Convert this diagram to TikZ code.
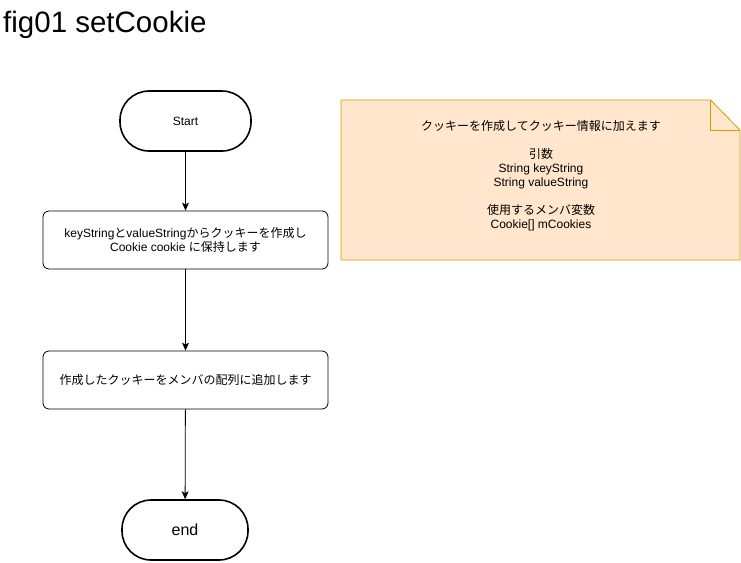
\documentclass[tikz,border=0pt]{standalone}
\usepackage{fontspec}
\setmainfont{Liberation Sans}
\newfontfamily\jafont{Noto Sans CJK JP}
\usepackage{tikz}
\usetikzlibrary{arrows.meta, positioning}
\definecolor{notefill}{HTML}{FFE6CC}
\definecolor{noteline}{HTML}{D79B00}
\tikzstyle{terminal}=[draw, line width=1.6pt, rounded corners=29pt, minimum height=60pt, align=center, font=\fontsize{12}{14}\selectfont]
\tikzstyle{process}=[draw, line width=0.8pt, rounded corners=6pt, minimum width=285pt, minimum height=58pt, align=center, font=\fontsize{12}{14}\selectfont]
\tikzstyle{flow}=[line width=0.8pt, -{Stealth[length=8pt, width=7pt, inset=2pt]}]
\newcommand{\process}{\node[process]}
\newcommand{\ja}[1]{{\jafont #1}}

\begin{document}
\begin{tikzpicture}[x=1pt, y=-1pt]
            \useasboundingbox (0,0) rectangle (741,562);
            \node (title) at (3,32) [anchor=base west, inner sep=0pt, font=\fontsize{29.5}{34}\selectfont]{fig01 setCookie};
            \node[terminal, minimum width=131pt] (start) at (185.5,121) {Start};
            \process (make) at (185.5,240) {keyString\ja{と}valueString\ja{からクッキーを作成し}\\Cookie cookie \ja{に保持します}};
            \process (add) at (185.5,380) {\ja{作成したクッキーをメンバの配列に追加します}};
            \node[terminal, minimum width=126pt, font=\fontsize{16}{18}\selectfont] (end) at (185,530) {end};
            \draw[flow] (start) -- (make);
            \draw[flow] (make) -- (add);
            \draw[flow] (add) -- (end);
            % note
            \filldraw[fill=notefill, draw=noteline, line width=0.8pt] (341,100) -- (710.5,100) -- (740,130) -- (740,260) -- (341,260) -- cycle;
            \draw[noteline, line width=0.8pt] (710.5,100) -- (710.5,130) -- (740,130);
            \node (note) at (541,176) [align=center, font=\fontsize{12}{14}\selectfont]{\ja{クッキーを作成してクッキー情報に加えます}\\[14pt]\ja{引数}\\String keyString\\String valueString\\[14pt]\ja{使用するメンバ変数}\\Cookie[] mCookies};
        \end{tikzpicture}
\end{document}
